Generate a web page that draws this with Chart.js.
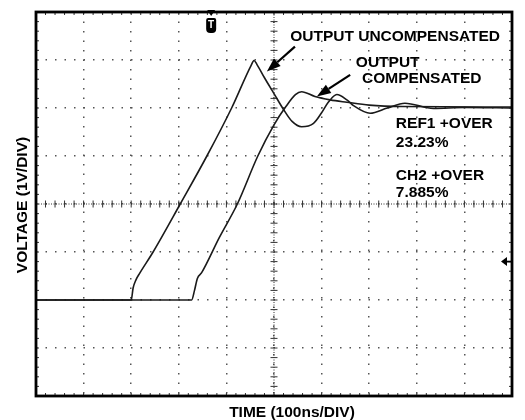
<!DOCTYPE html>
<html>
<head>
<meta charset="utf-8">
<script src="https://cdn.jsdelivr.net/npm/chart.js@4.4.1/dist/chart.umd.min.js"></script>
<style>
  html, body { margin: 0; padding: 0; background: #fff; }
</style>
</head>
<body>
<canvas id="scope" width="525" height="420"></canvas>
<script>
// time in ns (100ns/div), voltage in V (1V/div)
const uncompTime = [0, 200, 204, 210, 218, 246, 303, 359, 411, 452, 458, 464, 480, 500, 520, 538, 558, 583, 600, 614, 632, 653, 667, 702, 738, 775, 835, 900, 1000];
const uncompVolt = [-2, -2, -1.75, -1.58, -1.44, -1.0, 0, 1.0, 2.0, 2.89, 2.99, 2.91, 2.63, 2.30, 1.97, 1.72, 1.61, 1.68, 1.90, 2.12, 2.28, 2.17, 2.05, 1.89, 2.0, 2.10, 1.99, 2.01, 2.0];

const compTime = [0, 327, 333, 339, 348, 385, 423, 466, 500, 525, 545, 558, 586, 618, 653, 700, 770, 1000];
const compVolt = [-2, -2, -1.8, -1.55, -1.43, -0.7, 0, 1.0, 1.65, 2.03, 2.28, 2.34, 2.24, 2.17, 2.12, 2.06, 2.03, 2.02];

// annotations (placed in data units)
const noteText = ["OUTPUT UNCOMPENSATED", "OUTPUT", "COMPENSATED", "REF1 +OVER", "23.23%", "CH2 +OVER", "7.885%"];
const noteTime = [534, 672, 685, 756, 756, 756, 756];
const noteVolt = [3.40, 2.86, 2.52, 1.58, 1.19, 0.50, 0.15];

const arrowFromTime = [544, 660];
const arrowFromVolt = [3.28, 2.69];
const arrowToTime = [485, 590];
const arrowToVolt = [2.76, 2.24];

const triggerTime = 368;
const groundVolt = -1.2;

const xTitle = "TIME (100ns/DIV)";
const yTitle = "VOLTAGE (1V/DIV)";

const FONT = '"Liberation Sans", Arial, Helvetica, sans-serif';

function toPoints(xs, ys) {
    return xs.map((x, i) => ({ x, y: ys[i] }));
}

function drawArrow(ctx, x1, y1, x2, y2) {
    const ang = Math.atan2(y2 - y1, x2 - x1);
    const len = 14, half = 5;
    const bx = x2 - len * Math.cos(ang), by = y2 - len * Math.sin(ang);
    ctx.beginPath();
    ctx.moveTo(x1, y1);
    ctx.lineTo(bx, by);
    ctx.lineWidth = 2.2;
    ctx.stroke();
    ctx.beginPath();
    ctx.moveTo(x2, y2);
    ctx.lineTo(bx + half * Math.sin(ang), by - half * Math.cos(ang));
    ctx.lineTo(bx - half * Math.sin(ang), by + half * Math.cos(ang));
    ctx.closePath();
    ctx.fill();
}

const scopeDecor = {
    id: "scopeDecor",
    beforeDatasetsDraw(chart) {
        const { ctx, chartArea: a, scales: { x, y } } = chart;
        const cx = x.getPixelForValue(500);
        const cy = y.getPixelForValue(0);
        ctx.save();
        ctx.strokeStyle = "#333";
        ctx.lineWidth = 1;
        // dense center lines
        ctx.setLineDash([1, 1.5]);
        ctx.beginPath();
        ctx.moveTo(a.left, cy); ctx.lineTo(a.right, cy);
        ctx.moveTo(cx, a.top); ctx.lineTo(cx, a.bottom);
        ctx.stroke();
        ctx.setLineDash([]);
        // minor ticks every 1/5 division
        ctx.beginPath();
        for (let t = 0; t <= 1000; t += 20) {
            const px = x.getPixelForValue(t);
            ctx.moveTo(px, a.top); ctx.lineTo(px, a.top + 3);
            ctx.moveTo(px, a.bottom); ctx.lineTo(px, a.bottom - 3);
            ctx.moveTo(px, cy - 3.5); ctx.lineTo(px, cy + 3.5);
        }
        for (let v = -4; v <= 4.001; v += 0.2) {
            const py = y.getPixelForValue(v);
            ctx.moveTo(a.left, py); ctx.lineTo(a.left + 3, py);
            ctx.moveTo(a.right, py); ctx.lineTo(a.right - 3, py);
            ctx.moveTo(cx - 3.5, py); ctx.lineTo(cx + 3.5, py);
        }
        ctx.stroke();
        ctx.restore();
    },
    afterDatasetsDraw(chart) {
        const { ctx, chartArea: a, scales: { x, y } } = chart;
        ctx.save();
        // frame
        ctx.strokeStyle = "#000";
        ctx.lineWidth = 2.8;
        ctx.strokeRect(a.left, a.top, a.right - a.left, a.bottom - a.top);

        // text notes
        ctx.fillStyle = "#000";
        ctx.font = "bold 15.5px " + FONT;
        ctx.textAlign = "left";
        ctx.textBaseline = "alphabetic";
        noteText.forEach((txt, i) => {
            ctx.fillText(txt, x.getPixelForValue(noteTime[i]), y.getPixelForValue(noteVolt[i]));
        });

        // axis titles
        ctx.textAlign = "center";
        ctx.textBaseline = "middle";
        ctx.fillText(xTitle, (a.left + a.right) / 2 + 18, a.bottom + 17);
        ctx.save();
        ctx.translate(a.left - 13, (a.top + a.bottom) / 2 + 1);
        ctx.rotate(-Math.PI / 2);
        ctx.fillText(yTitle, 0, 0);
        ctx.restore();

        // arrows
        ctx.strokeStyle = "#000";
        arrowFromTime.forEach((t, i) => {
            drawArrow(ctx,
                x.getPixelForValue(t), y.getPixelForValue(arrowFromVolt[i]),
                x.getPixelForValue(arrowToTime[i]), y.getPixelForValue(arrowToVolt[i]));
        });

        // trigger marker
        const tx = x.getPixelForValue(triggerTime);
        ctx.beginPath();
        ctx.moveTo(tx - 4, a.top - 2);
        ctx.lineTo(tx + 4, a.top - 2);
        ctx.lineTo(tx, a.top + 4);
        ctx.closePath();
        ctx.fill();
        ctx.beginPath();
        ctx.roundRect(tx - 5, a.top + 6, 10, 15, [2, 2, 4, 4]);
        ctx.fill();
        ctx.fillStyle = "#fff";
        ctx.font = "bold 10px " + FONT;
        ctx.fillText("T", tx, a.top + 13);

        // ground level marker
        const gy = y.getPixelForValue(groundVolt);
        ctx.fillStyle = "#000";
        ctx.beginPath();
        ctx.moveTo(a.right - 11, gy);
        ctx.lineTo(a.right - 5, gy - 4.5);
        ctx.lineTo(a.right - 5, gy + 4.5);
        ctx.closePath();
        ctx.fill();
        ctx.lineWidth = 1.8;
        ctx.beginPath();
        ctx.moveTo(a.right - 6, gy); ctx.lineTo(a.right, gy);
        ctx.stroke();
        ctx.restore();
    }
};

new Chart(document.getElementById("scope"), {
    type: "line",
    data: {
        datasets: [
            {
                label: "REF1 (uncompensated)",
                data: toPoints(uncompTime, uncompVolt),
                borderColor: "#1a1a1a",
                borderWidth: 1.6,
                pointRadius: 0,
                cubicInterpolationMode: "monotone",
                fill: false
            },
            {
                label: "CH2 (compensated)",
                data: toPoints(compTime, compVolt),
                borderColor: "#1a1a1a",
                borderWidth: 1.6,
                pointRadius: 0,
                cubicInterpolationMode: "monotone",
                fill: false
            }
        ]
    },
    options: {
        responsive: false,
        animation: false,
        layout: { padding: { top: 12, right: 13, left: 36, bottom: 24 } },
        plugins: {
            legend: { display: false },
            tooltip: { enabled: false }
        },
        scales: {
            x: {
                type: "linear",
                min: 0,
                max: 1000,
                ticks: { display: false, stepSize: 100 },
                grid: { color: "#555", lineWidth: 1.5, drawTicks: false },
                border: { display: false, dash: [1.5, 8] }
            },
            y: {
                type: "linear",
                min: -4,
                max: 4,
                ticks: { display: false, stepSize: 1 },
                grid: { color: "#555", lineWidth: 1.5, drawTicks: false },
                border: { display: false, dash: [1.5, 8] }
            }
        }
    },
    plugins: [scopeDecor]
});
</script>
</body>
</html>
